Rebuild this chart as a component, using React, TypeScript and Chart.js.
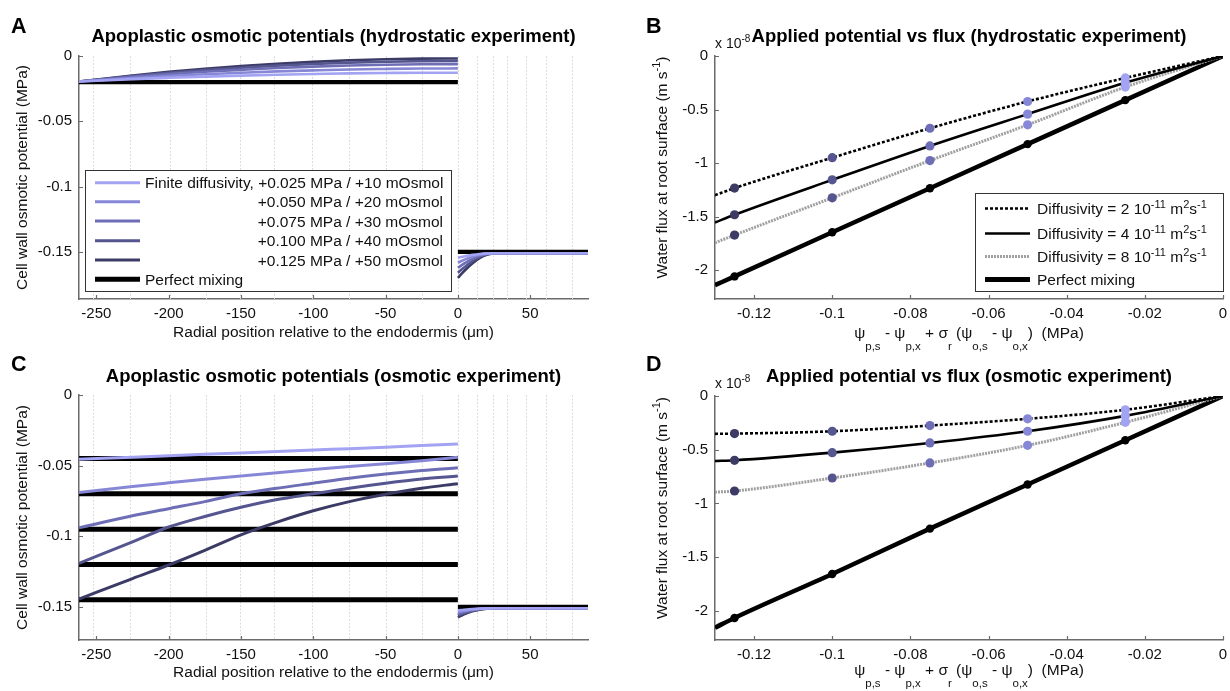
import { useEffect, useRef } from 'react';
import { Chart, registerables } from 'chart.js';

Chart.register(...registerables);

const FONT = "'Liberation Sans', Arial, Helvetica, sans-serif";
const AXIS = '#6b6b6b';
const TEXT = '#111111';
const WALL = '#dcdcdc';

// ---------------- data ----------------
const radialTicks = [-250, -200, -150, -100, -50, 0, 50];
const osmoticTicks = [0, -0.05, -0.1, -0.15];
const potentialTicks = [-0.12, -0.1, -0.08, -0.06, -0.04, -0.02, 0];
const fluxTicks = [0, -0.5, -1, -1.5, -2];

const cellWalls = [-252, -227, -199, -174, -151, -127, -101, -75, -50, -25, 0, 13, 24, 34, 47, 61, 79];

const cortexX = [-262, -225, -200, -175, -150, -125, -100, -75, -50, -25, 0];
const steleX = [0, 3, 6, 10, 15, 20, 25, 30, 90];
const mixCortexX = [-262, 0];
const mixSteleX = [0, 90];

// hydrostatic experiment, apoplastic osmotic potential (MPa), +0.025 ... +0.125 MPa
const hydroCortex1 = [-0.0195, -0.0177, -0.0167, -0.0158, -0.015, -0.0143, -0.0138, -0.0133, -0.013, -0.0128, -0.0128];
const hydroCortex2 = [-0.0195, -0.0169, -0.0153, -0.014, -0.0128, -0.0118, -0.011, -0.0103, -0.0099, -0.0096, -0.0095];
const hydroCortex3 = [-0.0195, -0.016, -0.0139, -0.0121, -0.0106, -0.0092, -0.0081, -0.0073, -0.0067, -0.0063, -0.0062];
const hydroCortex4 = [-0.0195, -0.0154, -0.0129, -0.0108, -0.009, -0.0074, -0.0061, -0.0051, -0.0044, -0.0039, -0.0038];
const hydroCortex5 = [-0.0195, -0.0149, -0.0121, -0.0097, -0.0077, -0.0059, -0.0045, -0.0033, -0.0025, -0.002, -0.0019];
const hydroStele1 = [-0.1544, -0.1537, -0.153, -0.1522, -0.1515, -0.1511, -0.151, -0.151, -0.151];
const hydroStele2 = [-0.1582, -0.1567, -0.1553, -0.1536, -0.1521, -0.1513, -0.151, -0.151, -0.151];
const hydroStele3 = [-0.1621, -0.1599, -0.1578, -0.1553, -0.1529, -0.1515, -0.1511, -0.151, -0.151];
const hydroStele4 = [-0.1659, -0.163, -0.1603, -0.157, -0.1538, -0.1518, -0.1511, -0.151, -0.151];
const hydroStele5 = [-0.1698, -0.1662, -0.1628, -0.1588, -0.1548, -0.1522, -0.1512, -0.151, -0.151];
const hydroMixCortex = [-0.02];

// osmotic experiment
const osmoCortex1 = [-0.0455, -0.044, -0.043, -0.042, -0.041, -0.04, -0.039, -0.038, -0.037, -0.0358, -0.0347];
const osmoCortex2 = [-0.069, -0.0648, -0.0622, -0.0597, -0.0573, -0.055, -0.0528, -0.0507, -0.0487, -0.0465, -0.0441];
const osmoCortex3 = [-0.094, -0.0855, -0.0805, -0.0755, -0.07, -0.066, -0.0625, -0.059, -0.056, -0.0535, -0.0515];
const osmoCortex4 = [-0.1192, -0.104, -0.0935, -0.086, -0.0795, -0.074, -0.07, -0.066, -0.0625, -0.0595, -0.0574];
const osmoCortex5 = [-0.1445, -0.13, -0.1204, -0.11, -0.099, -0.09, -0.082, -0.0755, -0.0703, -0.066, -0.0628];
const osmoStele1 = [-0.1525, -0.1522, -0.1519, -0.1516, -0.1513, -0.1511, -0.151, -0.151, -0.151];
const osmoStele2 = [-0.1537, -0.1531, -0.1526, -0.152, -0.1514, -0.1511, -0.151, -0.151, -0.151];
const osmoStele3 = [-0.155, -0.1541, -0.1533, -0.1524, -0.1516, -0.1512, -0.151, -0.151, -0.151];
const osmoStele4 = [-0.1562, -0.155, -0.1539, -0.1527, -0.1518, -0.1512, -0.151, -0.151, -0.151];
const osmoStele5 = [-0.1575, -0.156, -0.1546, -0.1532, -0.152, -0.1513, -0.151, -0.151, -0.151];
const osmoMixCortex = [-0.045, -0.07, -0.095, -0.12, -0.145];
const mixStele = [-0.15];

// applied potential (MPa) vs water flux (x 1e-8 m/s)
const potentialX = [-0.13, -0.125, -0.1, -0.075, -0.05, -0.025, 0];
const hydroD2 = [-1.3, -1.234, -0.95, -0.675, -0.425, -0.205, 0];
const hydroD4 = [-1.555, -1.483, -1.157, -0.84, -0.543, -0.25, 0];
const hydroD8 = [-1.745, -1.673, -1.325, -0.977, -0.643, -0.29, 0];
const hydroMix = [-2.14, -2.059, -1.647, -1.235, -0.823, -0.412, 0];
const osmoD2 = [-0.352, -0.35, -0.328, -0.275, -0.212, -0.128, 0];
const osmoD4 = [-0.605, -0.598, -0.527, -0.437, -0.328, -0.185, 0];
const osmoD8 = [-0.895, -0.884, -0.763, -0.623, -0.459, -0.245, 0];
const osmoMix = [-2.155, -2.065, -1.656, -1.234, -0.824, -0.412, 0];

const levelColors = ['#a3a3f3', '#8787d7', '#6e6eb6', '#555590', '#3b3b66'];
const markerRadius = [0, 4.6, 4.6, 4.6, 4.6, 4.6, 0];
const markerLevel = [-1, 4, 3, 2, 1, 0, -1];

const legendALabels = [
  'Finite diffusivity, +0.025 MPa / +10 mOsmol',
  '+0.050 MPa / +20 mOsmol',
  '+0.075 MPa / +30 mOsmol',
  '+0.100 MPa / +40 mOsmol',
  '+0.125 MPa / +50 mOsmol',
  'Perfect mixing',
];
const diffusivities = ['2', '4', '8'];

// ---------------- helpers ----------------
type Seg = { t: string; s?: 'sup' | 'sub' };
const zip = (xs: number[], ys: number[]) => xs.map((x, i) => ({ x, y: ys[i] }));

function fontStr(size: number, bold = false) {
  return `${bold ? 'bold ' : ''}${size}px ${FONT}`;
}

function drawRich(ctx: any, segs: Seg[], x: number, y: number, o: any) {
  const size = o.size;
  const small = o.small ?? size * 0.72;
  const subShift = o.subShift ?? size * 0.32;
  const supShift = o.supShift ?? size * 0.42;
  const bold = !!o.bold;
  let w = 0;
  for (const s of segs) {
    ctx.font = fontStr(s.s ? small : size, bold);
    w += ctx.measureText(s.t).width;
  }
  let cx = o.align === 'center' ? x - w / 2 : o.align === 'right' ? x - w : x;
  ctx.textAlign = 'left';
  ctx.textBaseline = 'alphabetic';
  ctx.fillStyle = o.color ?? TEXT;
  for (const s of segs) {
    ctx.font = fontStr(s.s ? small : size, bold);
    const dy = s.s === 'sup' ? -supShift : s.s === 'sub' ? subShift : 0;
    ctx.fillText(s.t, cx, y + dy);
    cx += ctx.measureText(s.t).width;
  }
}

function drawLegend(ctx: any, L: any) {
  ctx.save();
  ctx.fillStyle = '#ffffff';
  ctx.fillRect(L.x1, L.y1, L.x2 - L.x1, L.y2 - L.y1);
  ctx.strokeStyle = '#333333';
  ctx.lineWidth = 1;
  ctx.strokeRect(L.x1 + 0.5, L.y1 + 0.5, L.x2 - L.x1 - 1, L.y2 - L.y1 - 1);
  L.rows.forEach((r: any, i: number) => {
    const y = L.rowY[i];
    ctx.save();
    ctx.strokeStyle = r.color;
    ctx.lineWidth = r.width;
    ctx.setLineDash(r.dash || []);
    ctx.beginPath();
    ctx.moveTo(L.sx1, y);
    ctx.lineTo(L.sx2, y);
    ctx.stroke();
    ctx.restore();
    drawRich(ctx, r.segs, r.align === 'right' ? L.tr : L.tx, y + 5.5, { size: 15.5, small: 11, supShift: 6.5, align: r.align });
  });
  ctx.restore();
}

function decorPlugin(d: any) {
  return {
    id: 'decor' + d.letter.text,
    beforeDatasetsDraw(chart: any) {
      if (!d.walls) return;
      const { ctx, chartArea: a } = chart;
      const xs = chart.scales.x;
      ctx.save();
      ctx.strokeStyle = WALL;
      ctx.lineWidth = 1;
      ctx.setLineDash([2, 1.5]);
      d.walls.forEach((v: number) => {
        const px = Math.round(xs.getPixelForValue(v)) + 0.5;
        ctx.beginPath();
        ctx.moveTo(px, a.top);
        ctx.lineTo(px, a.bottom);
        ctx.stroke();
      });
      ctx.restore();
    },
    afterDatasetsDraw(chart: any) {
      const { ctx, chartArea: a } = chart;
      const xs = chart.scales.x;
      const ys = chart.scales.y;
      ctx.save();
      ctx.strokeStyle = AXIS;
      ctx.lineWidth = 1.2;
      ctx.beginPath();
      xs.ticks.forEach((t: any) => {
        const px = Math.round(xs.getPixelForValue(t.value)) + 0.5;
        ctx.moveTo(px, a.bottom);
        ctx.lineTo(px, a.bottom - 4);
      });
      ys.ticks.forEach((t: any) => {
        const py = Math.round(ys.getPixelForValue(t.value)) + 0.5;
        ctx.moveTo(a.left, py);
        ctx.lineTo(a.left + 4, py);
      });
      ctx.stroke();
      ctx.restore();
      if (d.legend) drawLegend(ctx, d.legend);
    },
    afterDraw(chart: any) {
      const { ctx, chartArea: a } = chart;
      ctx.save();
      ctx.fillStyle = '#000';
      ctx.textAlign = 'left';
      ctx.textBaseline = 'alphabetic';
      ctx.font = fontStr(21.5, true);
      ctx.fillText(d.letter.text, d.letter.x, d.letter.y);
      if (d.exponent) {
        drawRich(ctx, [{ t: 'x 10' }, { t: '-8', s: 'sup' }], d.exponent.x, d.exponent.y, { size: 14, small: 10, supShift: 6 });
      }
      ctx.fillStyle = '#000';
      ctx.font = fontStr(18.5, true);
      ctx.textAlign = 'center';
      ctx.fillText(d.title.text, (a.left + a.right) / 2, d.title.y);
      if (d.xTitle) {
        drawRich(ctx, d.xTitle.segs, (a.left + a.right) / 2, d.xTitle.y, {
          size: 15.5, small: 11.5, subShift: 11.5, align: 'center',
        });
      }
      if (d.yTitle) {
        ctx.save();
        ctx.translate(d.yTitle.x, (a.top + a.bottom) / 2 + d.yTitle.dy);
        ctx.rotate(-Math.PI / 2);
        drawRich(ctx, d.yTitle.segs, 0, 0, { size: 15.5, small: 11, supShift: 6.5, align: 'center' });
        ctx.restore();
      }
      ctx.restore();
    },
  };
}

function makeScales(f: any, xr: number[], yr: number[], xTicks: number[], yTicks: number[], xTitle: any, yTitle: any) {
  const tickFont = { family: FONT, size: 15 };
  const titleFont = { family: FONT, size: 15.5 };
  return {
    x: {
      type: 'linear',
      bounds: 'data',
      min: xr[0],
      max: xr[1],
      afterBuildTicks: (s: any) => {
        s.ticks = xTicks.map((v) => ({ value: v }));
      },
      afterFit: (s: any) => {
        s.height = f.H - f.bottom;
        s.paddingLeft = 0;
        s.paddingRight = 0;
        s.paddingTop = 0;
        s.paddingBottom = 0;
      },
      grid: { display: false, drawTicks: false },
      border: { display: true, color: AXIS, width: 1.5 },
      ticks: {
        autoSkip: false, maxRotation: 0, minRotation: 0, padding: 6, color: TEXT, font: tickFont,
        callback: (v: any) => String(v),
      },
      title: xTitle
        ? { display: true, text: xTitle.text, color: TEXT, font: titleFont, padding: { top: 0, bottom: xTitle.pad } }
        : { display: false },
    },
    y: {
      type: 'linear',
      bounds: 'data',
      min: yr[0],
      max: yr[1],
      afterBuildTicks: (s: any) => {
        s.ticks = yTicks.map((v) => ({ value: v }));
      },
      afterFit: (s: any) => {
        s.width = f.left;
        s.paddingLeft = 0;
        s.paddingRight = 0;
        s.paddingTop = 0;
        s.paddingBottom = 0;
      },
      grid: { display: false, drawTicks: false },
      border: { display: true, color: AXIS, width: 1.5 },
      ticks: {
        autoSkip: false, padding: 7, color: TEXT, font: tickFont,
        callback: (v: any) => String(v),
      },
      title: yTitle
        ? { display: true, text: yTitle.text, color: TEXT, font: titleFont, padding: { top: yTitle.pad, bottom: 0 } }
        : { display: false },
    },
  };
}

function line(data: any[], color: string, width: number, extra: any = {}) {
  return {
    data,
    borderColor: color,
    backgroundColor: color,
    borderWidth: width,
    pointRadius: 0,
    fill: false,
    cubicInterpolationMode: 'monotone',
    ...extra,
  };
}

function baseOptions(f: any, scales: any) {
  return {
    animation: false,
    responsive: false,
    events: [],
    layout: { padding: { left: 0, top: f.top, right: f.W - f.right, bottom: 0 } },
    plugins: { legend: { display: false }, tooltip: { enabled: false }, title: { display: false } },
    scales,
  };
}

const frameA = { W: 615, H: 345, left: 79, top: 56, right: 588, bottom: 299 };
const frameB = { W: 615, H: 360, left: 100, top: 56, right: 608, bottom: 299 };
const frameC = { W: 615, H: 346, left: 79, top: 50, right: 588, bottom: 295 };
const frameD = { W: 615, H: 346, left: 100, top: 51, right: 608, bottom: 295 };

function radialConfig(f: any, cortex: number[][], stele: number[][], mixLevels: number[], ymin: number, decor: any, xPad: number, lw: number, mixW: number) {
  const datasets = [
    ...cortex.map((ys, i) => line(zip(cortexX, ys), levelColors[i], lw)),
    ...stele.map((ys, i) => line(zip(steleX, ys), levelColors[i], 2.6)),
    ...mixLevels.map((l) => line(zip(mixCortexX, [l, l]), '#000000', mixW)),
    line(zip(mixSteleX, [mixStele[0], mixStele[0]]), '#000000', 4.2),
  ];
  return {
    type: 'line',
    data: { datasets },
    options: baseOptions(
      f,
      makeScales(f, [-262, 90], [ymin, 0], radialTicks, osmoticTicks,
        { text: 'Radial position relative to the endodermis (\u03bcm)', pad: xPad },
        { text: 'Cell wall osmotic potential (MPa)', pad: 13.5 }),
    ),
    plugins: [decorPlugin(decor)],
  };
}

function fluxConfig(f: any, d2: number[], d4: number[], d8: number[], mix: number[], decor: any) {
  const markerColors = (base: string) => markerLevel.map((l) => (l < 0 ? base : levelColors[l]));
  const datasets = [
    line(zip(potentialX, d2), '#000000', 2.6, {
      borderDash: [3, 2],
      pointRadius: markerRadius, pointBackgroundColor: markerColors('#000'), pointBorderWidth: 0,
    }),
    line(zip(potentialX, d4), '#000000', 2.6, {
      pointRadius: markerRadius, pointBackgroundColor: markerColors('#000'), pointBorderWidth: 0,
    }),
    line(zip(potentialX, d8), '#a0a0a0', 3, {
      borderDash: [2, 1],
      pointRadius: markerRadius, pointBackgroundColor: markerColors('#a0a0a0'), pointBorderWidth: 0,
    }),
    line(zip(potentialX, mix), '#000000', 4.5, {
      pointRadius: markerRadius.map((r) => (r > 0 ? 4.2 : 0)), pointBackgroundColor: '#000', pointBorderWidth: 0,
    }),
  ];
  return {
    type: 'line',
    data: { datasets },
    options: baseOptions(f, makeScales(f, [-0.13, 0], [-2.27, 0], potentialTicks, fluxTicks, null, null)),
    plugins: [decorPlugin(decor)],
  };
}

const xFluxTitle: Seg[] = [
  { t: '\u03c8' }, { t: 'p,s', s: 'sub' }, { t: ' - \u03c8' }, { t: 'p,x', s: 'sub' },
  { t: ' + \u03c3' }, { t: 'r', s: 'sub' }, { t: ' (\u03c8' }, { t: 'o,s', s: 'sub' },
  { t: ' - \u03c8' }, { t: 'o,x', s: 'sub' }, { t: ')  (MPa)' },
];
const yFluxTitle: Seg[] = [{ t: 'Water flux at root surface (m s' }, { t: '-1', s: 'sup' }, { t: ')' }];

const legendA = {
  x1: 85, y1: 170, x2: 452, y2: 292,
  rowY: [182.7, 201.7, 221, 240.7, 260, 279.3],
  sx1: 95, sx2: 140, tx: 145, tr: 443,
  rows: legendALabels.map((lab, i) => ({
    segs: [{ t: lab }],
    color: i < 5 ? levelColors[i] : '#000000',
    width: i < 5 ? 3 : 5,
    align: i === 0 || i === 5 ? 'left' : 'right',
  })),
};

const legendB = {
  x1: 360, y1: 193, x2: 609, y2: 292,
  rowY: [208.5, 233.5, 256.5, 279.5],
  sx1: 370, sx2: 415, tx: 422, tr: 600,
  rows: [
    ...diffusivities.map((dv, i) => ({
      segs: [{ t: `Diffusivity = ${dv} 10` }, { t: '-11', s: 'sup' }, { t: ' m' }, { t: '2', s: 'sup' }, { t: 's' }, { t: '-1', s: 'sup' }],
      color: i === 2 ? '#a0a0a0' : '#000000',
      width: i === 2 ? 3 : 2.6,
      dash: i === 0 ? [3, 2] : i === 2 ? [2, 1] : [],
      align: 'left',
    })),
    { segs: [{ t: 'Perfect mixing' }], color: '#000000', width: 5, align: 'left' },
  ],
};

const configA = () =>
  radialConfig(frameA,
    [hydroCortex1, hydroCortex2, hydroCortex3, hydroCortex4, hydroCortex5],
    [hydroStele1, hydroStele2, hydroStele3, hydroStele4, hydroStele5],
    hydroMixCortex, -0.186,
    { letter: { text: 'A', x: 11, y: 33 }, title: { text: 'Apoplastic osmotic potentials (hydrostatic experiment)', y: 42 }, walls: cellWalls, legend: legendA },
    3, 2.6, 4.2);

const configC = () =>
  radialConfig(frameC,
    [osmoCortex1, osmoCortex2, osmoCortex3, osmoCortex4, osmoCortex5],
    [osmoStele1, osmoStele2, osmoStele3, osmoStele4, osmoStele5],
    osmoMixCortex, -0.1735,
    { letter: { text: 'C', x: 11, y: 26 }, title: { text: 'Apoplastic osmotic potentials (osmotic experiment)', y: 36.5 }, walls: cellWalls },
    9, 3, 5);

const configB = () =>
  fluxConfig(frameB, hydroD2, hydroD4, hydroD8, hydroMix, {
    letter: { text: 'B', x: 31, y: 33 },
    title: { text: 'Applied potential vs flux (hydrostatic experiment)', y: 42 },
    exponent: { x: 100, y: 48 },
    xTitle: { segs: xFluxTitle, y: 338 },
    yTitle: { segs: yFluxTitle, x: 51.5, dy: -10 },
    legend: legendB,
  });

const configD = () =>
  fluxConfig(frameD, osmoD2, osmoD4, osmoD8, osmoMix, {
    letter: { text: 'D', x: 31, y: 26 },
    title: { text: 'Applied potential vs flux (osmotic experiment)', y: 37 },
    exponent: { x: 100, y: 43 },
    xTitle: { segs: xFluxTitle, y: 330 },
    yTitle: { segs: yFluxTitle, x: 51.5, dy: -10 },
  });

function Panel({ make, left, top, frame }: any) {
  const ref = useRef<HTMLCanvasElement>(null);
  useEffect(() => {
    const chart = new Chart(ref.current as HTMLCanvasElement, make() as any);
    return () => chart.destroy();
  }, []);
  return (
    <canvas
      ref={ref}
      width={frame.W}
      height={frame.H}
      style={{ position: 'absolute', left, top }}
    />
  );
}

export default function App() {
  return (
    <div style={{ position: 'absolute', left: 0, top: 0, width: 1230, height: 691, background: '#ffffff', overflow: 'hidden' }}>
      <Panel make={configA} left={0} top={0} frame={frameA} />
      <Panel make={configC} left={0} top={345} frame={frameC} />
      <Panel make={configD} left={615} top={345} frame={frameD} />
      <Panel make={configB} left={615} top={0} frame={frameB} />
    </div>
  );
}
